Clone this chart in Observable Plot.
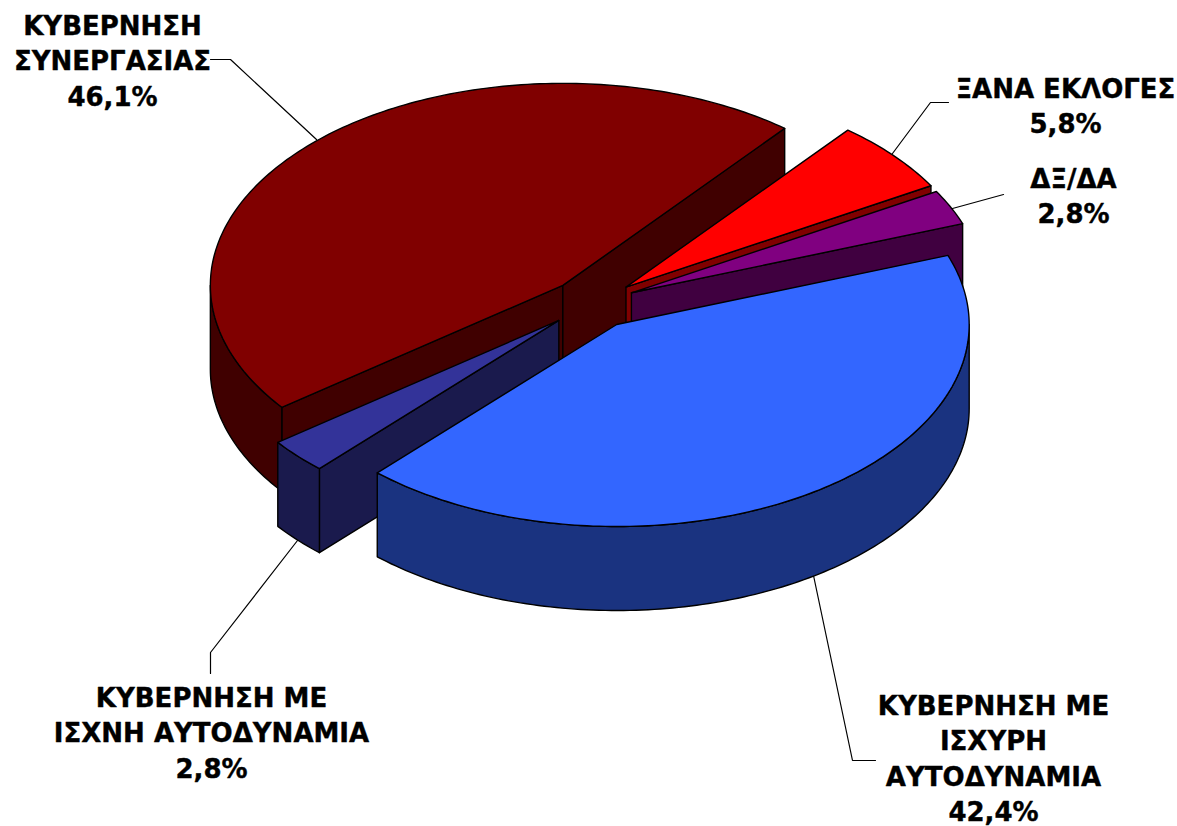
<!DOCTYPE html>
<html>
<head>
<meta charset="utf-8">
<script src="https://cdn.jsdelivr.net/npm/d3@7"></script>
<script src="https://cdn.jsdelivr.net/npm/@observablehq/plot@0.6"></script>
<style>html,body{margin:0;padding:0;background:#fff}svg{display:block}</style>
</head>
<body>
<div id="chart"></div>
<script>
// Slices in clockwise order from the start angle
const categories = ["ΞΑΝΑ ΕΚΛΟΓΕΣ", "ΔΞ/ΔΑ", "ΚΥΒΕΡΝΗΣΗ ΜΕ ΙΣΧΥΡΗ ΑΥΤΟΔΥΝΑΜΙΑ", "ΚΥΒΕΡΝΗΣΗ ΜΕ ΙΣΧΝΗ ΑΥΤΟΔΥΝΑΜΙΑ", "ΚΥΒΕΡΝΗΣΗ ΣΥΝΕΡΓΑΣΙΑΣ"];
const values = [5.8, 2.8, 42.4, 2.8, 46.1];
const topColors = ["#ff0000", "#800080", "#3366ff", "#333399", "#800000"];
const wallColors = ["#800000", "#400040", "#1a3380", "#1a1a4d", "#400000"];
const paintOrder = [4, 0, 1, 3, 2];
const nudgeX = [-1, -2, -1.2, -2, 0];

const W = 1177, H = 826;
const CX = 593, CY = 303, RX = 352.5, RY = 202, DEPTH = 84, EXPLODE = 0.125, START = 51;
const rad = d => d * Math.PI / 180;
const total = d3.sum(values);
let cursor = START;
const slices = values.map((v, i) => {
  const a0 = cursor, a1 = cursor - v / total * 360;
  cursor = a1;
  const mid = rad((a0 + a1) / 2);
  const ax = CX + nudgeX[i] + EXPLODE * RX * Math.cos(mid), ay = CY - EXPLODE * RY * Math.sin(mid);
  const pt = (t, d = 0) => [ax + RX * Math.cos(rad(t)), ay - RY * Math.sin(rad(t)) + d];
  return {i, a0, a1, ax, ay, pt};
});
function arc(s, from, to, d = 0) {
  const n = Math.max(2, Math.ceil(Math.abs(to - from)));
  return d3.range(n + 1).map(k => s.pt(from + (to - from) * k / n, d));
}
const poly = (pts, fill) => Plot.line(pts, {x: d => d[0], y: d => d[1], fill, stroke: "#000", strokeWidth: 1.4, strokeLinejoin: "round", curve: "linear-closed"});

const pieMarks = [];
for (const idx of paintOrder) {
  const s = slices[idx], apex = [s.ax, s.ay], down = [s.ax, s.ay + DEPTH];
  const radial = t => [apex, s.pt(t), s.pt(t, DEPTH), down];
  if (Math.cos(rad(s.a0)) < 0) pieMarks.push(poly(radial(s.a0), wallColors[idx]));
  if (Math.cos(rad(s.a1)) > 0) pieMarks.push(poly(radial(s.a1), wallColors[idx]));
  for (const [lo, hi] of [[-180, 0], [180, 360]]) {
    const from = Math.min(s.a0, hi), to = Math.max(s.a1, lo);
    if (from > to) pieMarks.push(poly([...arc(s, from, to), ...arc(s, to, from, DEPTH)], wallColors[idx]));
  }
  pieMarks.push(poly([apex, ...arc(s, s.a0, s.a1)], topColors[idx]));
}

const leaders = [
  [[210, 59], [230, 59], [316, 139]],
  [[948, 102], [930, 102], [892, 153]],
  [[1003, 194], [952, 208]],
  [[210, 673], [210, 652], [297, 540]],
  [[813, 575], [852, 760], [875, 760]]
];
const labels = [
  {x: 112, y: 58.5, t: "ΚΥΒΕΡΝΗΣΗ\nΣΥΝΕΡΓΑΣΙΑΣ\n46,1%"},
  {x: 1065, y: 103.5, t: "ΞΑΝΑ ΕΚΛΟΓΕΣ\n5,8%"},
  {x: 1073, y: 193.5, t: "ΔΞ/ΔΑ\n2,8%"},
  {x: 211, y: 730.5, t: "ΚΥΒΕΡΝΗΣΗ ΜΕ\nΙΣΧΝΗ ΑΥΤΟΔΥΝΑΜΙΑ\n2,8%"},
  {x: 993, y: 756, t: "ΚΥΒΕΡΝΗΣΗ ΜΕ\nΙΣΧΥΡΗ\nΑΥΤΟΔΥΝΑΜΙΑ\n42,4%"}
];

const chart = Plot.plot({
  width: W, height: H, margin: 0,
  x: {domain: [0, W], range: [0, W], axis: null},
  y: {domain: [0, H], range: [0, H], axis: null},
  marks: [
    ...leaders.map(l => Plot.line(l, {x: d => d[0], y: d => d[1], stroke: "#000", strokeWidth: 1.2})),
    ...pieMarks,
    Plot.text(labels, {x: "x", y: "y", text: "t", fontFamily: "DejaVu Sans", fontWeight: "bold", fontSize: 26, fill: "#000", stroke: "#000", strokeWidth: 0.4, lineHeight: 1.365, lineAnchor: "middle", textAnchor: "middle"})
  ]
});
document.getElementById("chart").appendChild(chart);
</script>
</body>
</html>
